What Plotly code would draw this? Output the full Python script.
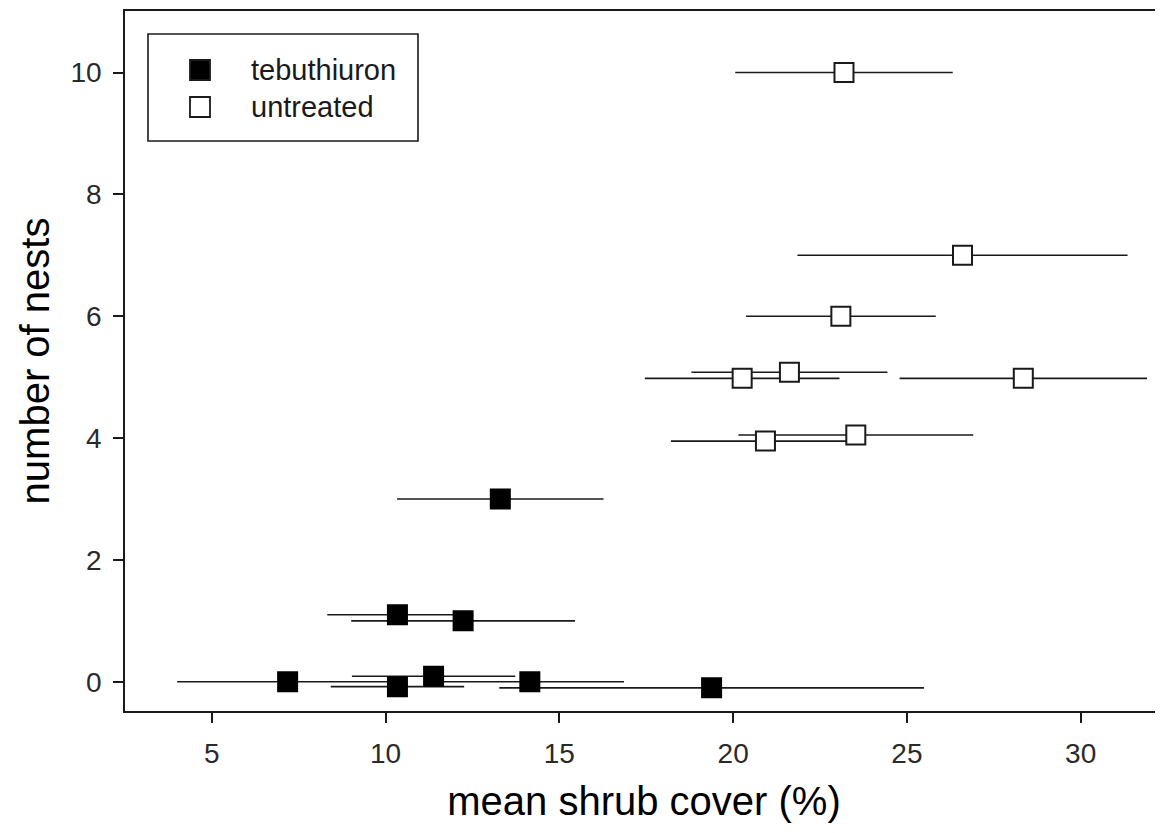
import plotly.graph_objects as go

# tebuthiuron plots
teb_x = [7.18, 10.34, 11.38, 14.15, 19.38, 10.34, 12.23, 13.30]
teb_y = [0.00, -0.08, 0.09, 0.00, -0.10, 1.10, 1.00, 3.00]
teb_err = [3.18, 1.92, 2.35, 2.71, 6.11, 2.02, 3.22, 2.97]

# untreated plots
unt_x = [20.26, 21.62, 28.35, 20.93, 23.53, 23.10, 26.60, 23.19]
unt_y = [4.98, 5.08, 4.98, 3.95, 4.05, 6.00, 7.00, 10.00]
unt_err = [2.80, 2.82, 3.56, 2.72, 3.38, 2.73, 4.75, 3.13]

x_ticks = [5, 10, 15, 20, 25, 30]
y_ticks = [0, 2, 4, 6, 8, 10]

series_names = ["tebuthiuron", "untreated"]
series_fill = ["black", "white"]

ink = "#1a1a1a"

# page geometry (the page body adds an 8px offset)
OFF = 8
PL, PT, PW, PH = 125, 11, 1038, 700  # plot area in page pixels


def px(x):
    return (x - PL) / PW


def py(y):
    return (PT + PH - y) / PH


fig = go.Figure()
fig.add_trace(go.Scatter(
    x=teb_x, y=teb_y, mode="markers", name=series_names[0],
    marker=dict(symbol="square", size=19, color=series_fill[0], line=dict(color="black", width=2)),
    error_x=dict(type="data", array=teb_err, symmetric=True, width=0, thickness=1.6, color=ink),
))
fig.add_trace(go.Scatter(
    x=unt_x, y=unt_y, mode="markers", name=series_names[1],
    marker=dict(symbol="square", size=19, color=series_fill[1], line=dict(color=ink, width=2)),
    error_x=dict(type="data", array=unt_err, symmetric=True, width=0, thickness=1.6, color=ink),
))

# hand-built legend box (to match the original's proportions)
shapes = [dict(type="rect", xref="paper", yref="paper",
               x0=px(148), x1=px(418), y0=py(34), y1=py(141),
               line=dict(color=ink, width=1.6), fillcolor="white", layer="above")]
annotations = []
for i, (name, fill) in enumerate(zip(series_names, series_fill)):
    cy = 70 + i * 37
    shapes.append(dict(type="rect", xref="paper", yref="paper",
                       x0=px(190), x1=px(210), y0=py(cy - 10), y1=py(cy + 10),
                       line=dict(color=ink, width=1.8), fillcolor=fill, layer="above"))
    annotations.append(dict(xref="paper", yref="paper", x=px(249), y=py(cy),
                            xanchor="left", yanchor="middle", showarrow=False,
                            text=name, font=dict(size=29, color=ink)))

fig.update_layout(
    width=1163 - OFF, height=833 - OFF,
    margin=dict(l=PL - OFF, r=0, t=PT - OFF, b=833 - OFF - (PT - OFF) - PH),
    paper_bgcolor="white", plot_bgcolor="white",
    font=dict(family="Liberation Sans, Arial, sans-serif", color=ink),
    showlegend=False,
    shapes=shapes,
    annotations=annotations,
    xaxis=dict(
        range=[2.5, 32.37], tickvals=x_ticks, ticks="outside", ticklen=10, tickwidth=1.5,
        tickcolor=ink, showline=True, linecolor=ink, linewidth=1.5, mirror=True,
        showgrid=False, zeroline=False, tickfont=dict(size=28, color="#2a2a2a"),
        ticklabelstandoff=7,
        title=dict(text="mean shrub cover (%)", font=dict(size=40, color="black"), standoff=19),
    ),
    yaxis=dict(
        range=[-0.48, 11.01], tickvals=y_ticks, ticks="outside", ticklen=10, tickwidth=1.5,
        tickcolor=ink, showline=True, linecolor=ink, linewidth=1.5, mirror=False,
        showgrid=False, zeroline=False, tickfont=dict(size=28, color="#2a2a2a"),
        ticklabelstandoff=6,
        title=dict(text="number of nests", font=dict(size=40, color="black"), standoff=8),
    ),
)

fig.write_html("out.html")
